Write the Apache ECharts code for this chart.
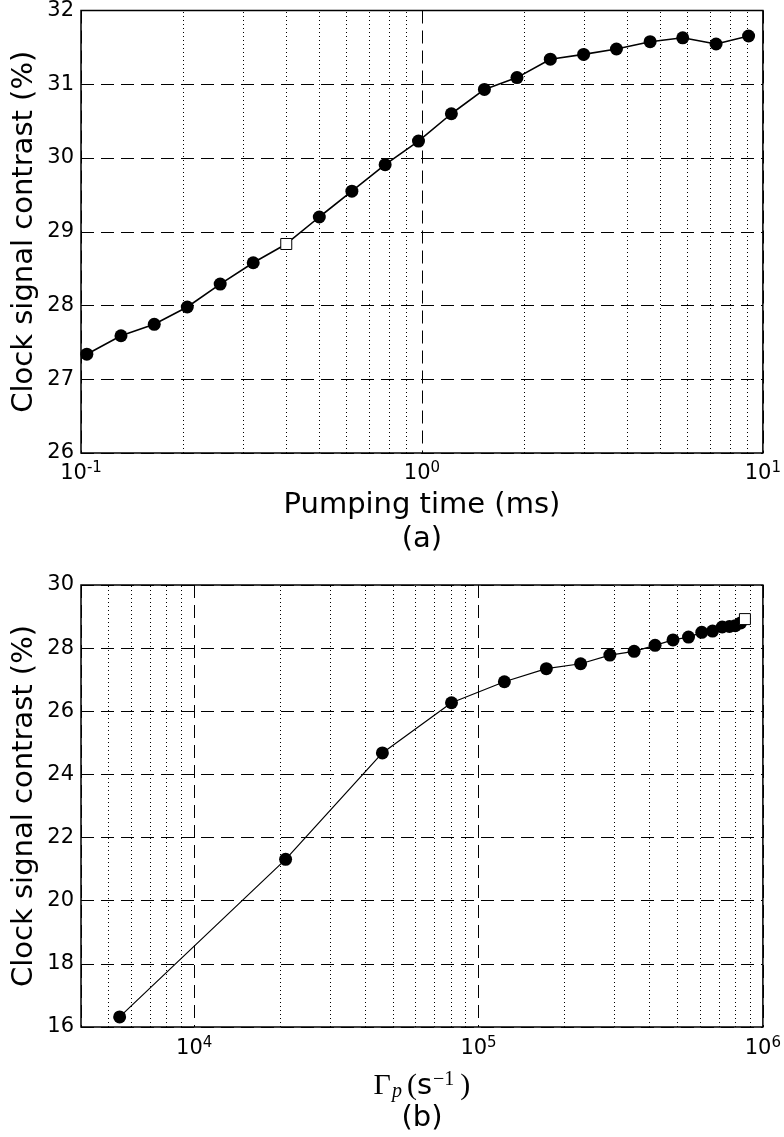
<!DOCTYPE html>
<html><head><meta charset="utf-8">
<script src="https://cdn.jsdelivr.net/npm/echarts@6/dist/echarts.min.js"></script>
<style>html,body{margin:0;padding:0;background:#fff}#c{width:784px;height:1137px}</style>
</head><body><div id="c"></div>
<script>
// (a) contrast vs pumping time
const pumpTime = [0.104, 0.131, 0.164, 0.205, 0.256, 0.32, 0.4, 0.5, 0.623, 0.78, 0.977, 1.22, 1.525, 1.9, 2.38, 2.98, 3.72, 4.67, 5.82, 7.29, 9.08];
const contrastA = [27.34, 27.59, 27.745, 27.98, 28.29, 28.58, 28.834, 29.2, 29.55, 29.91, 30.23, 30.6, 30.93, 31.09, 31.34, 31.405, 31.478, 31.577, 31.63, 31.546, 31.654];
const refIndexA = 6;
// (b) contrast vs pumping rate
const gammaP = [5470, 20970, 45920, 80360, 123300, 173200, 228600, 289700, 352500, 417700, 483100, 547700, 609600, 665300, 719500, 763000, 799500, 835300, 864700];
const contrastB = [16.32, 21.31, 24.68, 26.27, 26.935, 27.35, 27.505, 27.78, 27.9, 28.09, 28.26, 28.35, 28.5, 28.54, 28.67, 28.685, 28.71, 28.8, 28.92];
const refIndexB = 18;
// minor (dotted) grid positions
const minorTicksA = [0.2, 0.3, 0.4, 0.5, 0.6, 0.7, 0.8, 0.9, 2, 3, 4, 5, 6, 7, 8, 9];
const minorTicksB = [5000, 6000, 7000, 8000, 9000, 20000, 30000, 40000, 50000, 60000, 70000, 80000, 90000, 200000, 300000, 400000, 500000, 600000, 700000, 800000, 900000];

const FONT = 'DejaVu Sans';
const dashed = [13, 7];
const dotted = [1, 3];

function buildData(xs, ys, refIdx) {
  return xs.map((x, i) => i === refIdx
    ? { value: [x, ys[i]], symbol: 'rect', symbolSize: 11, itemStyle: { color: '#fff', borderColor: '#000', borderWidth: 1 } }
    : [x, ys[i]]);
}
function powLabel(v) {
  const e = Math.round(Math.log10(v));
  if (Math.abs(v - Math.pow(10, e)) / v > 1e-6) return '';
  return '{b|10}{s|' + (e < 0 ? '-' + (-e) : e) + '}';
}
const tickRich = {
  b: { fontFamily: FONT, fontSize: 21, color: '#000', lineHeight: 26 },
  s: { fontFamily: FONT, fontSize: 15, color: '#000', lineHeight: 13, verticalAlign: 'top' }
};
function minorLines(vals) {
  return {
    silent: true, symbol: 'none', animation: false,
    label: { show: false },
    lineStyle: { color: '#000', width: 1, type: dotted },
    emphasis: { disabled: true },
    data: vals.map(v => ({ xAxis: v }))
  };
}

const chart = echarts.init(document.getElementById('c'), null, { renderer: 'canvas' });
chart.setOption({
  animation: false,
  backgroundColor: '#fff',
  grid: [
    { left: 81, right: 20, top: 10.5, height: 442.5, show: true, borderColor: '#000', borderWidth: 1.5, backgroundColor: 'transparent' },
    { left: 81, right: 20, top: 585, height: 442, show: true, borderColor: '#000', borderWidth: 1.5, backgroundColor: 'transparent' }
  ],
  xAxis: [
    {
      gridIndex: 0, type: 'log', logBase: 10, min: 0.1, max: 10,
      axisLine: { show: false }, axisTick: { show: false },
      axisLabel: { formatter: powLabel, rich: tickRich, margin: 8, showMinLabel: true, showMaxLabel: true },
      splitLine: { show: true, lineStyle: { color: '#000', width: 1, type: dashed } },
      name: 'Pumping time (ms)\n(a)', nameLocation: 'middle', nameGap: 35, nameMoveOverlap: false,
      nameTextStyle: { fontFamily: FONT, fontSize: 29, color: '#000', lineHeight: 34 }
    },
    {
      gridIndex: 1, type: 'log', logBase: 10, min: 4000, max: 1000000,
      axisLine: { show: false }, axisTick: { show: false },
      axisLabel: { formatter: powLabel, rich: tickRich, margin: 9, showMinLabel: true, showMaxLabel: true },
      splitLine: { show: true, lineStyle: { color: '#000', width: 1, type: dashed } },
      name: '{g|Γ}{p|p}{g|(}{t|s}{u|−1}{g|)}\n{n|(b)}', nameLocation: 'middle', nameGap: 43, nameMoveOverlap: false,
      nameTextStyle: {
        color: '#000',
        rich: {
          g: { fontFamily: 'Liberation Serif', fontSize: 30, lineHeight: 32, color: '#000' },
          p: { fontFamily: 'Liberation Serif', fontStyle: 'italic', fontSize: 20, lineHeight: 14, verticalAlign: 'bottom', color: '#000', padding: [0, 5, 0, 1] },
          t: { fontFamily: FONT, fontSize: 29, lineHeight: 32, color: '#000' },
          u: { fontFamily: 'Liberation Serif', fontSize: 20, lineHeight: 18, verticalAlign: 'top', color: '#000', padding: [0, 6, 0, 1] },
          n: { fontFamily: FONT, fontSize: 29, lineHeight: 32, color: '#000' }
        }
      }
    }
  ],
  yAxis: [
    {
      gridIndex: 0, type: 'value', min: 26, max: 32, interval: 1,
      axisLine: { show: false },
      axisTick: { show: true, inside: true, length: 5, lineStyle: { color: '#000', width: 1 } },
      axisLabel: { fontFamily: FONT, fontSize: 21, color: '#000', margin: 7 },
      splitLine: { show: true, lineStyle: { color: '#000', width: 1, type: dashed } },
      name: 'Clock signal contrast (%)', nameLocation: 'middle', nameGap: 42, nameMoveOverlap: false,
      nameTextStyle: { fontFamily: FONT, fontSize: 29, color: '#000' }
    },
    {
      gridIndex: 1, type: 'value', min: 16, max: 30, interval: 2,
      axisLine: { show: false },
      axisTick: { show: true, inside: true, length: 5, lineStyle: { color: '#000', width: 1 } },
      axisLabel: { fontFamily: FONT, fontSize: 21, color: '#000', margin: 7 },
      splitLine: { show: true, lineStyle: { color: '#000', width: 1, type: dashed } },
      name: 'Clock signal contrast (%)', nameLocation: 'middle', nameGap: 42, nameMoveOverlap: false,
      nameTextStyle: { fontFamily: FONT, fontSize: 29, color: '#000' }
    }
  ],
  series: [
    {
      type: 'line', xAxisIndex: 0, yAxisIndex: 0,
      data: buildData(pumpTime, contrastA, refIndexA),
      symbol: 'circle', symbolSize: 13, showAllSymbol: true,
      lineStyle: { color: '#000', width: 1.6 },
      itemStyle: { color: '#000' },
      markLine: minorLines(minorTicksA),
      z: 5
    },
    {
      type: 'line', xAxisIndex: 1, yAxisIndex: 1,
      data: buildData(gammaP, contrastB, refIndexB),
      symbol: 'circle', symbolSize: 13, showAllSymbol: true,
      lineStyle: { color: '#000', width: 1.2 },
      itemStyle: { color: '#000' },
      markLine: minorLines(minorTicksB),
      z: 5
    }
  ]
});
</script>
</body></html>
